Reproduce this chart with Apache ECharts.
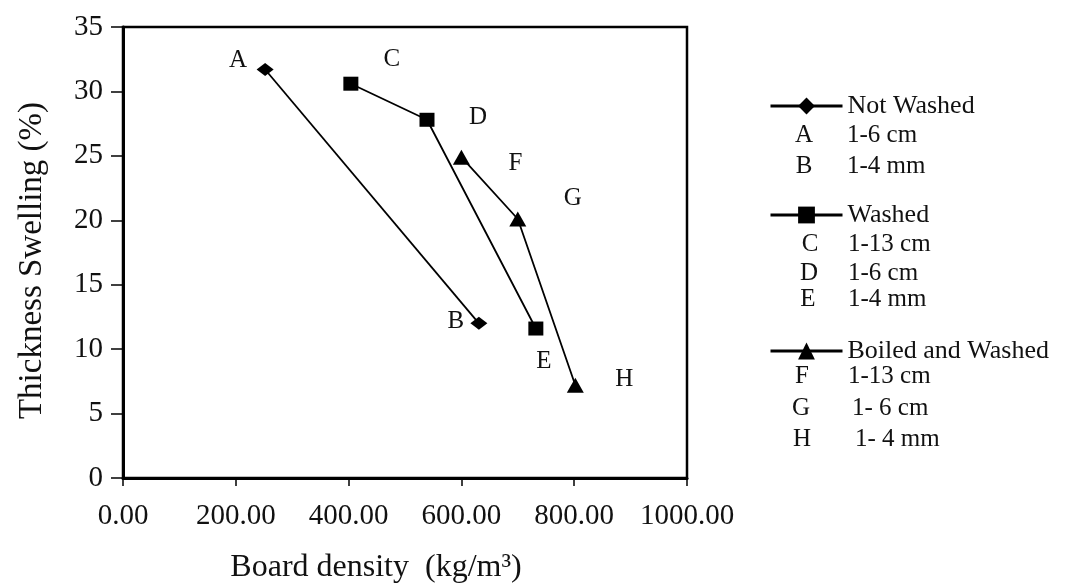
<!DOCTYPE html>
<html>
<head>
<meta charset="utf-8">
<script src="https://cdn.jsdelivr.net/npm/echarts@6/dist/echarts.min.js"></script>
<style>
html,body{margin:0;padding:0;background:#fff;}
#chart{width:1086px;height:583px;}
</style>
</head>
<body>
<div id="chart"></div>
<script>
// ---- data ----
const seriesNames = ['Not Washed', 'Washed', 'Boiled and Washed'];
const notWashedX = [252, 631];
const notWashedY = [31.7, 12.0];
const notWashedLetters = ['A', 'B'];
const washedX = [404, 539, 732];
const washedY = [30.6, 27.8, 11.6];
const washedLetters = ['C', 'D', 'E'];
const boiledX = [600, 700, 802];
const boiledY = [24.9, 20.1, 7.2];
const boiledLetters = ['F', 'G', 'H'];
const xTicks = [0, 200, 400, 600, 800, 1000];
const yTicks = [0, 5, 10, 15, 20, 25, 30, 35];
const notWashedKey = [['A', '1-6 cm'], ['B', '1-4 mm']];
const washedKey = [['C', '1-13 cm'], ['D', '1-6 cm'], ['E', '1-4 mm']];
const boiledKey = [['F', '1-13 cm'], ['G', '1- 6 cm'], ['H', '1- 4 mm']];

// ---- styling (positions of point letters relative to marker) ----
const letterOffset = {
  A: [-27, -9], B: [-23, -2], C: [41, -24], D: [51, -2], E: [8, 33],
  F: [54, 6], G: [55, -21], H: [49, -6]
};
const FONT = 'Liberation Serif';

function buildData(xs, ys, letters) {
  return xs.map((x, i) => ({
    value: [x, ys[i]],
    name: letters[i],
    label: {
      show: true,
      position: 'inside',
      offset: letterOffset[letters[i]],
      formatter: letters[i],
      fontFamily: FONT,
      fontSize: 25,
      color: '#111',
      align: 'center',
      verticalAlign: 'middle'
    }
  }));
}

const chart = echarts.init(document.getElementById('chart'), null, {renderer: 'canvas'});

const symbols = ['diamond', 'rect', 'triangle'];
const symbolSizes = [[17, 13], [15, 14], [17, 15]];
const dataSets = [
  buildData(notWashedX, notWashedY, notWashedLetters),
  buildData(washedX, washedY, washedLetters),
  buildData(boiledX, boiledY, boiledLetters)
];

const series = seriesNames.map((n, i) => ({
  name: n,
  type: 'line',
  data: dataSets[i],
  symbol: symbols[i],
  symbolSize: symbolSizes[i],
  showAllSymbol: true,
  itemStyle: {color: '#000'},
  lineStyle: {color: '#000', width: 1.8},
  emphasis: {disabled: true},
  animation: false,
  z: 3
}));

const legendTops = [91, 200, 336];
const legends = seriesNames.map((n, i) => ({
  data: [n],
  left: 769,
  top: legendTops[i],
  padding: 0,
  orient: 'vertical',
  itemWidth: 72,
  itemHeight: 21,
  itemGap: 0,
  selectedMode: false,
  textStyle: {fontFamily: FONT, fontSize: 26, color: '#111', lineHeight: 30},
  lineStyle: {width: 3, color: '#000'},
  itemStyle: {color: '#000'}
}));

// key rows below each legend item
const keyGroups = [
  {rows: notWashedKey, ys: [135, 166], letterX: [804, 804], textX: [847, 847]},
  {rows: washedKey, ys: [244, 273, 299], letterX: [810, 809, 808], textX: [848, 848, 848]},
  {rows: boiledKey, ys: [376, 408, 439], letterX: [802, 801, 802], textX: [848, 852, 855]}
];
const graphics = [];
keyGroups.forEach(g => {
  g.rows.forEach((r, j) => {
    graphics.push({
      type: 'text', x: g.letterX[j], y: g.ys[j],
      style: {text: r[0], font: '25px "' + FONT + '"', fill: '#111', align: 'center', verticalAlign: 'middle'}
    });
    graphics.push({
      type: 'text', x: g.textX[j], y: g.ys[j],
      style: {text: r[1], font: '25px "' + FONT + '"', fill: '#111', align: 'left', verticalAlign: 'middle'}
    });
  });
});

const option = {
  backgroundColor: '#fff',
  animation: false,
  grid: {
    left: 123, top: 27, right: 399, bottom: 105,
    outerBoundsMode: 'none',
    containLabel: false,
    show: true, borderColor: '#000', borderWidth: 2.5, backgroundColor: 'transparent'
  },
  legend: legends,
  xAxis: {
    type: 'value',
    min: xTicks[0], max: xTicks[xTicks.length - 1], interval: xTicks[1] - xTicks[0],
    name: 'Board density  (kg/m\u00B3)',
    nameLocation: 'middle',
    nameGap: 74,
    nameTextStyle: {fontFamily: FONT, fontSize: 32, color: '#111', padding: [0, 58, 0, 0]},
    axisLine: {show: true, onZero: false, lineStyle: {color: '#000', width: 3}},
    axisTick: {show: true, inside: false, length: 8, lineStyle: {color: '#000', width: 1.5}},
    axisLabel: {
      fontFamily: FONT, fontSize: 29, color: '#111', margin: 24,
      formatter: v => v.toFixed(2)
    },
    splitLine: {show: false}
  },
  yAxis: {
    type: 'value',
    min: yTicks[0], max: yTicks[yTicks.length - 1], interval: yTicks[1] - yTicks[0],
    name: 'Thickness Swelling (%)',
    nameLocation: 'middle',
    nameRotate: 90,
    nameGap: 74,
    nameTextStyle: {fontFamily: FONT, fontSize: 33, color: '#111', padding: [0, 16, 0, 0]},
    axisLine: {show: true, onZero: false, lineStyle: {color: '#000', width: 3}},
    axisTick: {show: true, inside: false, length: 12, lineStyle: {color: '#000', width: 1.5}},
    axisLabel: {fontFamily: FONT, fontSize: 29, color: '#111', margin: 20},
    splitLine: {show: false}
  },
  series: series,
  graphic: graphics
};
chart.setOption(option);
</script>
</body>
</html>
